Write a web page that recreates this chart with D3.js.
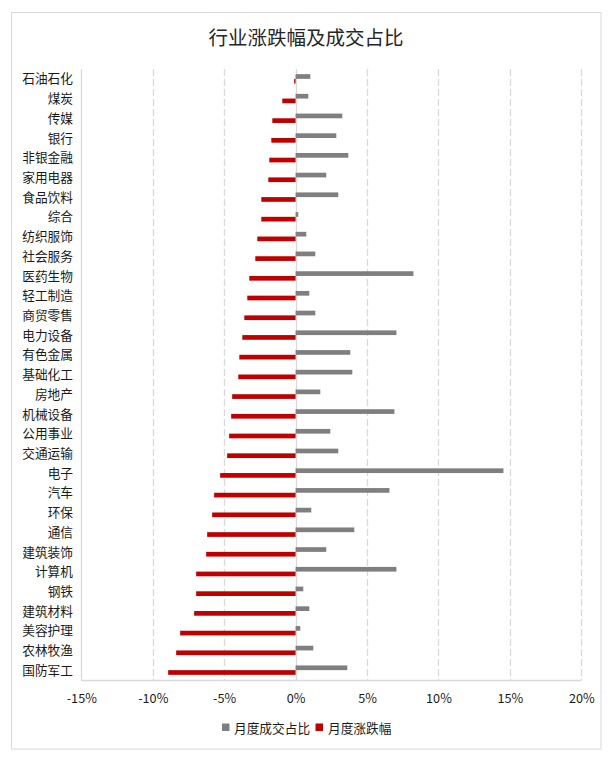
<!DOCTYPE html>
<html>
<head>
<meta charset="utf-8">
<script src="https://cdn.jsdelivr.net/npm/d3@7/dist/d3.min.js"></script>
<style>
  html, body { margin: 0; padding: 0; background: #fff; }
  svg { display: block; }
  text { font-family: "Noto Sans CJK SC", "Microsoft YaHei", sans-serif; }
</style>
</head>
<body>
<svg id="chart" width="615" height="761"></svg>
<script>
const categories = ["石油石化","煤炭","传媒","银行","非银金融","家用电器","食品饮料","综合","纺织服饰","社会服务",
  "医药生物","轻工制造","商贸零售","电力设备","有色金属","基础化工","房地产","机械设备","公用事业","交通运输",
  "电子","汽车","环保","通信","建筑装饰","计算机","钢铁","建筑材料","美容护理","农林牧渔","国防军工"];
const turnoverShare = [1.03,0.89,3.27,2.85,3.69,2.15,2.99,0.19,0.75,1.38,
  8.25,0.96,1.38,7.06,3.83,3.97,1.73,6.92,2.43,2.99,
  14.55,6.57,1.10,4.11,2.15,7.06,0.54,0.96,0.33,1.24,3.62];
const monthlyChange = [-0.10,-0.93,-1.63,-1.70,-1.84,-1.91,-2.40,-2.40,-2.68,-2.82,
  -3.24,-3.38,-3.59,-3.73,-3.94,-4.01,-4.44,-4.51,-4.65,-4.79,
  -5.28,-5.70,-5.84,-6.19,-6.26,-6.96,-6.96,-7.10,-8.08,-8.36,-8.92];
const tickValues = [-15,-10,-5,0,5,10,15,20];
const seriesNames = ["月度成交占比","月度涨跌幅"];
const seriesColors = ["#7f7f7f","#c00000"];
const title = "行业涨跌幅及成交占比";

const svg = d3.select("#chart");

// outer border
svg.append("rect").attr("x",11.5).attr("y",12.5).attr("width",589.5).attr("height",736.5)
  .attr("fill","#fff").attr("stroke","#d9d9d9").attr("stroke-width",1);

// title
svg.append("text").attr("x",306).attr("y",36).attr("text-anchor","middle")
  .attr("dominant-baseline","central").attr("font-size",19.5).attr("fill","#262626").text(title);

const x = d3.scaleLinear().domain([-15,20]).range([81.3,581.3]);
const y = d3.scaleBand().domain(categories).range([69,680]).padding(0);
const barH = 4.7;

// gridlines
const g = svg.append("g");
tickValues.forEach(t => {
  if (t === -15) return;
  g.append("line").attr("x1",Math.round(x(t))+0.5).attr("x2",Math.round(x(t))+0.5)
    .attr("y1",69).attr("y2",680)
    .attr("stroke","#d9d9d9").attr("stroke-width",1.3)
    .attr("stroke-dasharray", t === 0 ? null : "7,3");
});
// axis lines
g.append("line").attr("x1",81.5).attr("x2",81.5).attr("y1",69).attr("y2",680.5)
  .attr("stroke","#d9d9d9").attr("stroke-width",1.3);
g.append("line").attr("x1",81).attr("x2",581.5).attr("y1",680.5).attr("y2",680.5)
  .attr("stroke","#d9d9d9").attr("stroke-width",1.3);

// bars
const bars = svg.append("g");
categories.forEach((c,i) => {
  const cy = y(c) + y.bandwidth()/2;
  const v1 = turnoverShare[i];
  bars.append("rect").attr("x",x(Math.min(0,v1))).attr("width",Math.abs(x(v1)-x(0)))
    .attr("y",cy-barH).attr("height",barH).attr("fill",seriesColors[0]);
  const v2 = monthlyChange[i];
  bars.append("rect").attr("x",x(Math.min(0,v2))).attr("width",Math.abs(x(v2)-x(0)))
    .attr("y",cy).attr("height",barH).attr("fill",seriesColors[1]);
});

// category labels
const yAxis = d3.axisLeft(y).tickSize(0).tickPadding(0);
const ya = svg.append("g").attr("transform","translate(73,0)").call(yAxis);
ya.select(".domain").remove();
ya.selectAll("text").attr("font-size",12.7).attr("fill","#1a1a1a")
  .attr("font-family","\"Noto Sans CJK SC\", sans-serif").attr("dy","0.05em").attr("dominant-baseline","central").attr("y",-1.5);

// x tick labels
const xAxis = d3.axisBottom(x).tickValues(tickValues).tickSize(0).tickPadding(0).tickFormat(d => d + "%");
const xa = svg.append("g").attr("transform","translate(0,697)").call(xAxis);
xa.select(".domain").remove();
xa.selectAll("text").attr("font-size",12.7).attr("fill","#1a1a1a")
  .attr("font-family","\"Noto Sans CJK SC\", sans-serif").attr("dy",null).attr("y",0).attr("dominant-baseline","central");

// legend
const legend = svg.append("g");
const items = [{x:222, tx:234}, {x:315.5, tx:328}];
seriesNames.forEach((n,i) => {
  legend.append("rect").attr("x",items[i].x).attr("y",723.5).attr("width",7.5).attr("height",7.5).attr("fill",seriesColors[i]);
  legend.append("text").attr("x",items[i].tx).attr("y",727).attr("dominant-baseline","central")
    .attr("font-size",12.7).attr("fill","#1a1a1a").text(n);
});
</script>
</body>
</html>
